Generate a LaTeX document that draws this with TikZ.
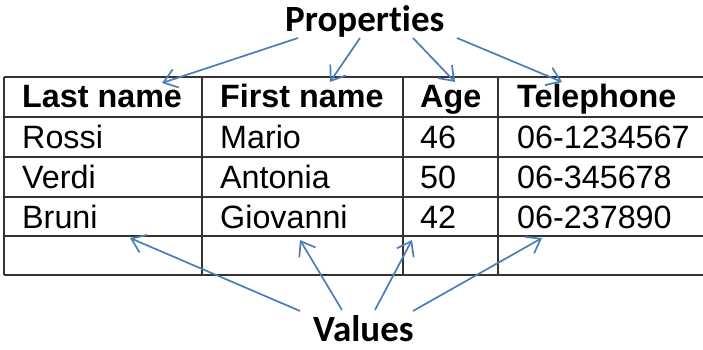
\documentclass[tikz,border=0pt]{standalone}
\usepackage{fontspec}
\setmainfont{Liberation Sans}
\newfontfamily\calib[Ligatures=NoCommon]{Carlito}
\usetikzlibrary{arrows.meta}
\definecolor{arrblue}{HTML}{4A7EBB}
\definecolor{gridc}{HTML}{333333}
\tikzset{
  gridline/.style={draw=gridc, line width=1.3pt},
  cell/.style={anchor=base west, inner sep=0pt, font=\fontsize{32.3}{36}\selectfont},
  headcell/.style={cell, font=\fontsize{32.3}{36}\selectfont\bfseries},
  label/.style={anchor=base west, inner sep=0pt, font=\calib\fontsize{37}{40}\selectfont\bfseries},
  pointer/.style={draw=arrblue, line width=1.7pt, -{Straight Barb[length=13pt,width=19pt,line width=1.7pt]}}
}
\begin{document}
\begin{tikzpicture}[x=1pt,y=1pt]
\useasboundingbox (0,0) rectangle (703,350);
% table grid
\foreach \yy in {273,233,193,153,114,75} \draw[gridline] (4,\yy) -- (703,\yy);
\foreach \xx in {4,202,403,498} \draw[gridline] (\xx,75) -- (\xx,273);
% header
\node[headcell] (h1) at (22,242) {Last name};
\node[headcell] (h2) at (220,242) {First name};
\node[headcell] (h3) at (420,242) {Age};
\node[headcell] (h4) at (517,242) {Telephone};
% rows
\node[cell] (r1a) at (22,201) {Rossi};
\node[cell] (r1b) at (220,201) {Mario};
\node[cell] (r1c) at (420,201) {46};
\node[cell] (r1d) at (517,201) {06-1234567};
\node[cell] (r2a) at (22,161) {Verdi};
\node[cell] (r2b) at (220,161) {Antonia};
\node[cell] (r2c) at (420,161) {50};
\node[cell] (r2d) at (517,161) {06-345678};
\node[cell] (r3a) at (22,121) {Bruni};
\node[cell] (r3b) at (220,121) {Giovanni};
\node[cell] (r3c) at (420,121) {42};
\node[cell] (r3d) at (517,121) {06-237890};
% labels
\node[label] (props) at (285,318) {Properties};
\node[label] (vals) at (313,8) {Values};
% arrow coordinates
\coordinate (ps1) at (298,312); \coordinate (pt1) at (162,267);
\coordinate (ps2) at (360,312); \coordinate (pt2) at (330,268);
\coordinate (ps3) at (413,312); \coordinate (pt3) at (455,268);
\coordinate (ps4) at (457,312); \coordinate (pt4) at (562,268);
\coordinate (vs1) at (300,39); \coordinate (vt1) at (130,112);
\coordinate (vs2) at (342,40); \coordinate (vt2) at (300,110);
\coordinate (vs3) at (375,40); \coordinate (vt3) at (412,110);
\coordinate (vs4) at (413,39); \coordinate (vt4) at (542,112);
\foreach \i in {1,2,3,4} {
  \draw[pointer] (ps\i) -- (pt\i);
  \draw[pointer] (vs\i) -- (vt\i);
}
\end{tikzpicture}
\end{document}
